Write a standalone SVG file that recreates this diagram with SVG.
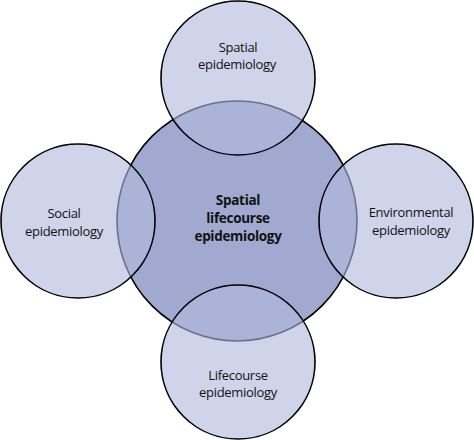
<svg xmlns="http://www.w3.org/2000/svg" width="474" height="440" viewBox="0 0 474 440">
  <style>
    .bg { fill: #ffffff; }
    .core { fill: #a1a9d1; stroke: #000; stroke-width: 1.6; }
    .outerfill { fill: #b2b8dc; fill-opacity: 0.61; stroke: none; }
    .outerline { fill: none; stroke: #000; stroke-width: 1.6; }
    .lbl { font-family: "Open Sans", "Noto Sans", sans-serif; font-size: 13px; letter-spacing: -0.3px; fill: #111; text-anchor: middle; }
    .lblb { font-family: "Open Sans", "Noto Sans", sans-serif; font-size: 13.5px; letter-spacing: -0.3px; font-weight: bold; fill: #111; text-anchor: middle; }
  </style>
  <rect class="bg" x="0" y="0" width="474" height="440"/>
  <g id="central">
    <circle class="core" cx="237" cy="221" r="120"/>
  </g>
  <g id="spatial">
    <circle class="outerfill" cx="238" cy="78" r="77"/>
    <circle class="outerline" cx="238" cy="78" r="77"/>
    <text class="lbl" x="238" y="52">Spatial</text>
    <text class="lbl" x="237" y="69">epidemiology</text>
  </g>
  <g id="social">
    <circle class="outerfill" cx="78" cy="221" r="77"/>
    <circle class="outerline" cx="78" cy="221" r="77"/>
    <text class="lbl" x="64" y="218">Social</text>
    <text class="lbl" x="64" y="236">epidemiology</text>
  </g>
  <g id="environmental">
    <circle class="outerfill" cx="396" cy="221" r="77"/>
    <circle class="outerline" cx="396" cy="221" r="77"/>
    <text class="lbl" x="411" y="217">Environmental</text>
    <text class="lbl" x="411" y="235">epidemiology</text>
  </g>
  <g id="lifecourse">
    <circle class="outerfill" cx="238" cy="362" r="77"/>
    <circle class="outerline" cx="238" cy="362" r="77"/>
    <text class="lbl" x="238" y="380">Lifecourse</text>
    <text class="lbl" x="238" y="397">epidemiology</text>
  </g>
  <g id="central-label">
    <text class="lblb" x="238" y="205">Spatial</text>
    <text class="lblb" x="238" y="223">lifecourse</text>
    <text class="lblb" x="238" y="241">epidemiology</text>
  </g>
  <g id="connectors"></g>
</svg>
